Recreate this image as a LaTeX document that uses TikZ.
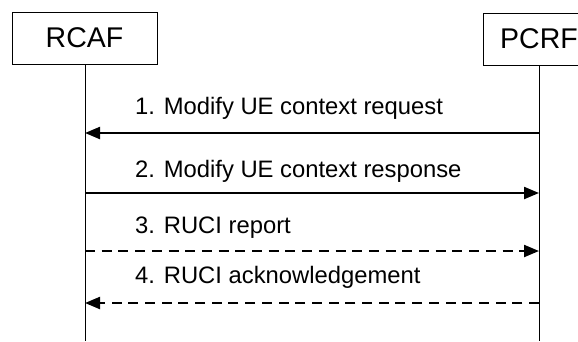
\documentclass[tikz,border=0pt]{standalone}
\usepackage{fontspec}
\setmainfont{Liberation Sans}
\usetikzlibrary{arrows.meta}
\begin{document}
\begin{tikzpicture}[x=1pt,y=-1pt,
    entity/.style={draw, line width=0.9pt, minimum height=52pt, inner sep=0pt,
        font=\fontsize{28.5}{32}\selectfont},
    msg/.style={anchor=base west, inner sep=0pt, font=\fontsize{23.8}{28}\selectfont},
    sig/.style={line width=2.2pt, -{Triangle[length=15pt,width=12pt]}},
    sigdash/.style={sig, dash pattern=on 10pt off 6.7pt}]
    % Frame of the picture
    \clip (0,0) rectangle (578,341);
    % Draw the two entities
    \node[entity, minimum width=145pt] (rcaf) at (84.5,38) {RCAF};
    \node[entity, minimum width=112pt] (pcrf) at (539,39) {PCRF};
    \coordinate (rcafEnd) at (85,341);
    \coordinate (pcrfEnd) at (539,341);
    % Draw the lifelines
    \draw[line width=0.9pt] (rcaf.south -| rcafEnd) -- (rcafEnd);
    \draw[line width=0.9pt] (pcrf.south -| pcrfEnd) -- (pcrfEnd);
    % Message points on the lifelines
    \foreach \y/\n in {133/1, 193/2, 251/3, 303/4} {
            \coordinate (r\n) at (85,\y);
            \coordinate (p\n) at (539,\y);
        }
    % Draw the messages
    \draw[sig] (p1) -- (r1);
    \draw[sig] (r2) -- (p2);
    \draw[sigdash] (r3) -- (p3);
    \draw[sigdash] (p4) -- (r4);
    % Message labels
    \node[msg] (m1) at (135,114) {1. Modify UE context request};
    \node[msg] (m2) at (135,177) {2. Modify UE context response};
    \node[msg] (m3) at (135,233) {3. RUCI report};
    \node[msg] (m4) at (135,283) {4. RUCI acknowledgement};
\end{tikzpicture}
\end{document}
